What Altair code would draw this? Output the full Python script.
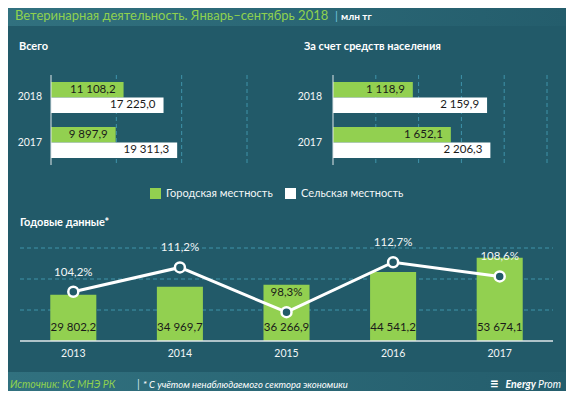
import altair as alt
import pandas as pd

# ---------------- data ----------------
years_top = ["2018", "2017"]
series_names = ["Городская местность", "Сельская местность"]
total_urban = [11108.2, 9897.9]
total_rural = [17225.0, 19311.3]
pop_urban = [1118.9, 1652.1]
pop_rural = [2159.9, 2206.3]
total_ticks = [10000, 20000, 30000]
pop_ticks = [600, 1200, 1800, 2400, 3000]

annual_years = ["2013", "2014", "2015", "2016", "2017"]
annual_values = [29802.2, 34969.7, 36266.9, 44541.2, 53674.1]
annual_growth = [104.2, 111.2, 98.3, 112.7, 108.6]
annual_ticks = [20000, 40000, 60000]

# ---------------- style ----------------
BG = "#225a69"
GREEN = "#92d050"
TITLE_GREEN = "#8fd14f"
GRID = "#3f93aa"
AXIS = "#dfe7ea"
TXT = "#f2f6f7"
DARK = "#1a1a1a"
FONT = "Lato"
W, H = 558, 383


def fmt(v):
    return f"{v:,.1f}".replace(",", " ").replace(".", ",")


def pct(v):
    return f"{v:.1f}%".replace(".", ",")


def label(text, x, y, size, color, weight="normal", style="normal", align="left"):
    return alt.Chart(pd.DataFrame({"t": [text]})).mark_text(
        align=align, baseline="middle", fontSize=size, color=color,
        fontWeight=weight, fontStyle=style, font=FONT
    ).encode(x=alt.value(x), y=alt.value(y), text="t:N")


color_scale = alt.Scale(domain=series_names, range=[GREEN, "#ffffff"])
legend = alt.Legend(
    orient="none", legendX=142, legendY=180, direction="horizontal", title=None,
    symbolType="square", symbolSize=121, symbolStrokeWidth=0, symbolOpacity=1,
    labelColor=TXT, labelFontSize=11, labelFont=FONT, labelOffset=5,
    columnPadding=12,
)


def hpanel(urban, rural, domain, ticks, x0, x1, label_x):
    rows = []
    for y, u, r in zip(years_top, urban, rural):
        rows.append({"year": y, "series": series_names[0], "value": u, "label": fmt(u)})
        rows.append({"year": y, "series": series_names[1], "value": r, "label": fmt(r)})
    df = pd.DataFrame(rows)
    xs = alt.Scale(domain=domain, range=[x0, x1], nice=False)
    ys = alt.Scale(domain=years_top, range=[67, 157], paddingInner=0.311, paddingOuter=0.155)
    yo = alt.Scale(domain=series_names)
    grid = alt.Chart(pd.DataFrame({"v": ticks})).mark_rule(
        color=GRID, strokeDash=[4, 3], strokeWidth=1
    ).encode(x=alt.X("v:Q", scale=xs, axis=None), y=alt.value(67), y2=alt.value(157))
    bars = alt.Chart(df).mark_bar().encode(
        x=alt.X("value:Q", scale=xs, axis=None),
        y=alt.Y("year:N", scale=ys, axis=None),
        yOffset=alt.YOffset("series:N", scale=yo),
        color=alt.Color("series:N", scale=color_scale, legend=legend),
    )
    vals = alt.Chart(df).mark_text(
        align="right", baseline="middle", dx=-8, fontSize=11.5, color=DARK, font=FONT
    ).encode(
        x=alt.X("value:Q", scale=xs, axis=None),
        y=alt.Y("year:N", scale=ys, axis=None),
        yOffset=alt.YOffset("series:N", scale=yo),
        text="label:N",
    )
    ylab = alt.Chart(pd.DataFrame({"year": years_top})).mark_text(
        align="right", baseline="middle", fontSize=10.5, color=TXT, font=FONT
    ).encode(x=alt.value(label_x), y=alt.Y("year:N", scale=ys, axis=None), text="year:N")
    axis_line = alt.Chart(pd.DataFrame({"v": [0]})).mark_rule(color=AXIS, strokeWidth=1).encode(
        x=alt.X("v:Q", scale=xs, axis=None), y=alt.value(67), y2=alt.value(157)
    )
    return alt.layer(grid, bars, vals, ylab, axis_line)


panel_a = hpanel(total_urban, total_rural, [0, 30000], total_ticks, 43, 239, 34)
panel_b = hpanel(pop_urban, pop_rural, [0, 3000], pop_ticks, 325, 539, 314)

# ---------------- annual chart ----------------
g_lo, g_hi = 90, 116.8
ann = pd.DataFrame({
    "year": annual_years,
    "value": annual_values,
    "growth": annual_growth,
    "vlabel": [fmt(v) for v in annual_values],
    "glabel": [pct(g) for g in annual_growth],
})
ann["on_bar"] = ((ann["growth"] - g_lo) / (g_hi - g_lo) + 19 / 93) < ann["value"] / 60000

xs3 = alt.Scale(domain=annual_years, range=[12, 545], paddingInner=0.568, paddingOuter=0.284)
ys3 = alt.Scale(domain=[0, 60000], range=[333, 240], nice=False)
ys4 = alt.Scale(domain=[g_lo, g_hi], range=[333, 240], nice=False, zero=False)

grid3 = alt.Chart(pd.DataFrame({"v": annual_ticks})).mark_rule(
    color=GRID, strokeDash=[4, 3], strokeWidth=1
).encode(y=alt.Y("v:Q", scale=ys3, axis=None), x=alt.value(12), x2=alt.value(545))
bars3 = alt.Chart(ann).mark_bar(color=GREEN).encode(
    x=alt.X("year:N", scale=xs3, axis=None), y=alt.Y("value:Q", scale=ys3, axis=None)
)
base3 = alt.Chart(pd.DataFrame({"v": [0]})).mark_rule(color=AXIS, strokeWidth=1.3).encode(
    y=alt.Y("v:Q", scale=ys3, axis=None), x=alt.value(12), x2=alt.value(545)
)
vlab3 = alt.Chart(ann).mark_text(
    baseline="middle", dy=-13, fontSize=11.5, color=DARK, font=FONT
).encode(x=alt.X("year:N", scale=xs3, axis=None), y=alt.datum(0), text="vlabel:N")
ylab3 = alt.Chart(ann).mark_text(
    baseline="middle", dy=13, fontSize=10.5, color=TXT, font=FONT
).encode(x=alt.X("year:N", scale=xs3, axis=None), y=alt.datum(0), text="year:N")
bar_part = alt.layer(grid3, bars3, base3, vlab3, ylab3)

line3 = alt.Chart(ann).mark_line(color="#ffffff", strokeWidth=3).encode(
    x=alt.X("year:N", scale=xs3, axis=None), y=alt.Y("growth:Q", scale=ys4, axis=None)
)
pts3 = alt.Chart(ann).mark_point(
    shape="circle", filled=True, fill=BG, stroke="#ffffff", strokeWidth=2.5, size=100, opacity=1
).encode(x=alt.X("year:N", scale=xs3, axis=None), y=alt.Y("growth:Q", scale=ys4, axis=None))
plab3 = alt.Chart(ann).mark_text(
    baseline="middle", dy=-19, fontSize=11.5, font=FONT
).encode(
    x=alt.X("year:N", scale=xs3, axis=None),
    y=alt.Y("growth:Q", scale=ys4, axis=None),
    text="glabel:N",
    color=alt.condition(alt.datum.on_bar, alt.value(DARK), alt.value(TXT)),
)
line_part = alt.layer(line3, pts3, plab3)
annual = alt.layer(bar_part, line_part).resolve_scale(y="independent")

# ---------------- decoration ----------------
band_grad = alt.Gradient(
    gradient="linear",
    stops=[alt.GradientStop(color="#31717f", offset=0), alt.GradientStop(color="#245d6c", offset=1)],
    x1=0, x2=1, y1=0, y2=0,
)
header = alt.Chart(pd.DataFrame({"a": [0]})).mark_rect(color=band_grad).encode(
    x=alt.value(0), x2=alt.value(W), y=alt.value(0), y2=alt.value(18)
)
footer = alt.Chart(pd.DataFrame({"a": [0]})).mark_rect(color=band_grad).encode(
    x=alt.value(0), x2=alt.value(W), y=alt.value(364), y2=alt.value(H)
)

texts = [
    label("Ветеринарная деятельность. Январь–сентябрь 2018", 7, 8, 13, TITLE_GREEN),
    label("|", 327, 8, 12, "#6fc3dc"),
    label("млн тг", 333, 8.5, 10, "#ffffff", weight="bold"),
    label("Всего", 11, 39, 11, "#ffffff", weight="bold"),
    label("За счет средств  населения", 296, 39, 11, "#ffffff", weight="bold"),
    label("Годовые данные*", 12, 215, 11, "#ffffff", weight="bold"),
    label("Источник: КС МНЭ РК", 2, 377, 10.5, TITLE_GREEN, style="italic"),
    label("|", 129, 377, 11, "#cfe3e8"),
    label("* С учётом ненаблюдаемого сектора экономики", 135, 377, 9.5, "#ffffff", style="italic"),
    label("≡", 482, 376, 15, "#ffffff", weight="bold"),
    label("Energy", 528, 377, 10.5, "#ffffff", weight="bold", style="italic", align="right"),
    label("Prom", 553, 377, 10.5, "#ffffff", style="italic", align="right"),
]

chart = alt.layer(header, footer, panel_a, panel_b, annual, *texts).resolve_scale(
    x="independent", y="independent"
).properties(
    width=W, height=H, background=BG, padding=0,
    autosize=alt.AutoSizeParams(type="none"),
).configure_view(stroke=None)

chart.save("out.html", embed_options={"renderer": "svg", "actions": False})
